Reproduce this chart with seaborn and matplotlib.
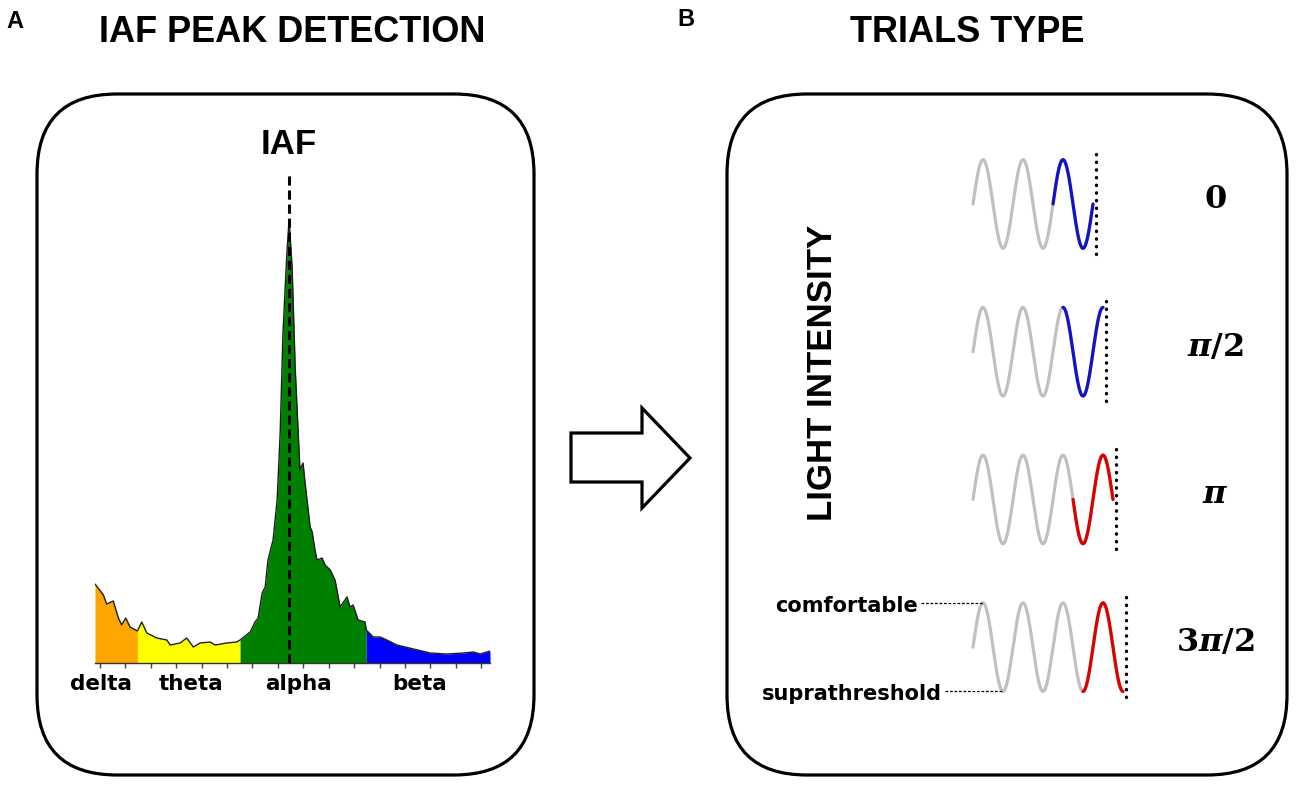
import numpy as np
import matplotlib
matplotlib.use("Agg")
import matplotlib.pyplot as plt
import seaborn as sns
from matplotlib.patches import FancyBboxPatch, Polygon

# ---------------- data ----------------
# EEG power spectrum (arbitrary power units)
freq = [0.80, 1.13, 1.26, 1.52, 1.72, 1.85, 2.01, 2.18, 2.47, 2.64, 2.84, 3.23,
        3.63, 3.76, 4.15, 4.41, 4.67, 4.94, 5.33, 5.53, 5.99, 6.38, 6.51, 6.91,
        7.10, 7.22, 7.38, 7.50, 7.61, 7.81, 7.97, 8.09, 8.20, 8.36, 8.44, 8.56,
        8.68, 8.80, 8.87, 8.99, 9.07, 9.27, 9.35, 9.46, 9.54, 9.74, 9.86, 10.06,
        10.25, 10.45, 10.72, 10.84, 10.96, 11.16, 11.43, 11.48, 11.75, 12.02,
        12.29, 12.68, 13.34, 13.99, 14.65, 15.31, 15.70, 15.96, 16.35]
power = [79, 68, 59, 62, 45, 38, 45, 36, 32, 41, 30, 25,
         23, 18, 20, 25, 16, 20, 21, 18, 20, 21, 23, 31,
         41, 45, 70, 76, 103, 123, 163, 230, 330, 413, 443, 396,
         296, 230, 193, 200, 180, 136, 131, 113, 103, 105, 98, 93,
         83, 56, 66, 56, 58, 43, 41, 33, 26, 26,
         23, 18, 14, 10, 9, 10, 11, 9, 12]
band_names = ["delta", "theta", "alpha", "beta"]
band_edges = [0.80, 2.47, 6.51, 11.48, 16.35]
band_colors = ["#FFA500", "#FFFF00", "#008000", "#0000FF"]
iaf_freq = 8.44
tick_freqs = list(range(1, 17))

trial_labels = [r"$0$", r"$\pi/2$", r"$\pi$", r"$3\pi/2$"]
trial_phase = [0.0, 0.5 * np.pi, np.pi, 1.5 * np.pi]
trial_colors = ["#1212C8", "#1212C8", "#DD0000", "#DD0000"]
n_gray_cycles = 3

# ---------------- style ----------------
sns.set_theme(style="white")
plt.rcParams["font.family"] = ["DejaVu Sans"]
plt.rcParams["text.color"] = "black"
plt.rcParams["mathtext.fontset"] = "custom"
plt.rcParams["mathtext.rm"] = "DejaVu Serif:bold"
plt.rcParams["mathtext.bf"] = "DejaVu Serif:bold"
plt.rcParams["mathtext.it"] = "DejaVu Serif:italic:bold"

W, H = 1300, 786
fig = plt.figure(figsize=(W / 100, H / 100), dpi=100)
fig.patch.set_facecolor("white")

bg = fig.add_axes([0, 0, 1, 1])
bg.set_xlim(0, W)
bg.set_ylim(H, 0)
bg.axis("off")


def px_axes(x0, x1, y0, y1):
    a = fig.add_axes([x0 / W, 1 - y1 / H, (x1 - x0) / W, (y1 - y0) / H])
    a.set_facecolor("none")
    return a


# panel frames
for (x0, x1) in [(37, 534), (727, 1287)]:
    bg.add_patch(FancyBboxPatch((x0, 94), x1 - x0, 681,
                                boxstyle="round,pad=0,rounding_size=80",
                                fc="white", ec="black", lw=2.3))

# arrow
bg.add_patch(Polygon([(571, 433), (642, 433), (642, 408), (690, 458),
                      (642, 508), (642, 482), (571, 482)], closed=True,
                     fc="white", ec="black", lw=2.3, joinstyle="miter"))

title_font = dict(family="Liberation Sans", fontweight="bold")
bg.text(292, 33, "IAF PEAK DETECTION", ha="center", va="center",
        fontsize=26, **title_font)
bg.text(967, 33, "TRIALS TYPE", ha="center", va="center",
        fontsize=26, **title_font)
bg.text(15, 21, "A", ha="center", va="center", fontsize=17, **title_font)
bg.text(686, 19, "B", ha="center", va="center", fontsize=17, **title_font)

# ---------------- panel A: spectrum ----------------
ax = px_axes(95, 490, 120, 663)
f = np.array(freq)
p = np.array(power)
for lo, hi, col in zip(band_edges[:-1], band_edges[1:], band_colors):
    m = (f >= lo) & (f <= hi)
    ax.fill_between(f[m], 0, p[m], color=col, lw=0)
sns.lineplot(x=f, y=p, ax=ax, color="#1e1e1e", lw=1.0, sort=False)
ax.plot([iaf_freq, iaf_freq], [0, 491], color="black", lw=2.2,
        linestyle=(0, (3.0, 1.6)))
ax.text(iaf_freq, 518, "IAF", ha="center", va="center", fontsize=25,
        clip_on=False, **title_font)
ax.set_xlim(band_edges[0], band_edges[-1])
ax.set_ylim(0, 543)
ax.set_xticks(tick_freqs)
ax.set_xticklabels([])
ax.set_yticks([])
ax.tick_params(axis="x", direction="out", length=3.5, width=1,
               color="#444444", bottom=True)
for s in ["top", "left", "right"]:
    ax.spines[s].set_visible(False)
ax.spines["bottom"].set_color("#333333")
ax.spines["bottom"].set_linewidth(1.0)
ax.set_xlabel("")
ax.set_ylabel("")
band_label_x = [1.04, 4.58, 8.80, 13.56]
for name, lx in zip(band_names, band_label_x):
    ax.text(lx, -21, name, ha="center", va="center", fontsize=15.5,
            fontweight="bold", clip_on=False)

# ---------------- panel B: trials ----------------
bx = px_axes(740, 1290, 130, 730)
bx.set_xlim(-5.825, 7.925)
bx.set_ylim(3.561, -0.501)
bx.axis("off")
amp = 0.30
for row, (lab, ph, col) in enumerate(zip(trial_labels, trial_phase, trial_colors)):
    t_end = n_gray_cycles + ph / (2 * np.pi)
    t = np.linspace(0, t_end, 500)
    y = row - amp * np.sin(2 * np.pi * t)
    sns.lineplot(x=t, y=y, ax=bx, color="#C0C0C0", lw=2.3, sort=False,
                 solid_capstyle="round")
    tc = np.linspace(t_end - 1, t_end, 200)
    yc = row - amp * np.sin(2 * np.pi * tc)
    sns.lineplot(x=tc, y=yc, ax=bx, color=col, lw=2.3, sort=False,
                 solid_capstyle="round")
    bx.plot([t_end + 0.07, t_end + 0.07], [row - 0.34, row + 0.37],
            color="black", lw=2.4, linestyle=(0, (0.1, 2.2)),
            dash_capstyle="round")
    bx.text(6.05, row - 0.03, lab, ha="center", va="center", fontsize=23)

bx.text(-3.75, 1.145, "LIGHT INTENSITY", rotation=90, ha="center",
        va="center", fontsize=25, **title_font)
# comfortable / suprathreshold markers on the last row
last = len(trial_labels) - 1
bx.plot([-1.3, 0.25], [last - amp, last - amp], color="black", lw=0.9,
        linestyle=(0, (2.2, 1.4)))
bx.plot([-0.7, 0.75], [last + amp, last + amp], color="black", lw=0.9,
        linestyle=(0, (2.2, 1.4)))
bx.text(-1.38, last - amp + 0.065, "comfortable", ha="right",
        va="baseline", fontsize=15, fontweight="bold")
bx.text(-0.77, last + amp + 0.06, "suprathreshold", ha="right",
        va="baseline", fontsize=15, fontweight="bold")

fig.savefig("out.png", dpi=100, facecolor="white")
